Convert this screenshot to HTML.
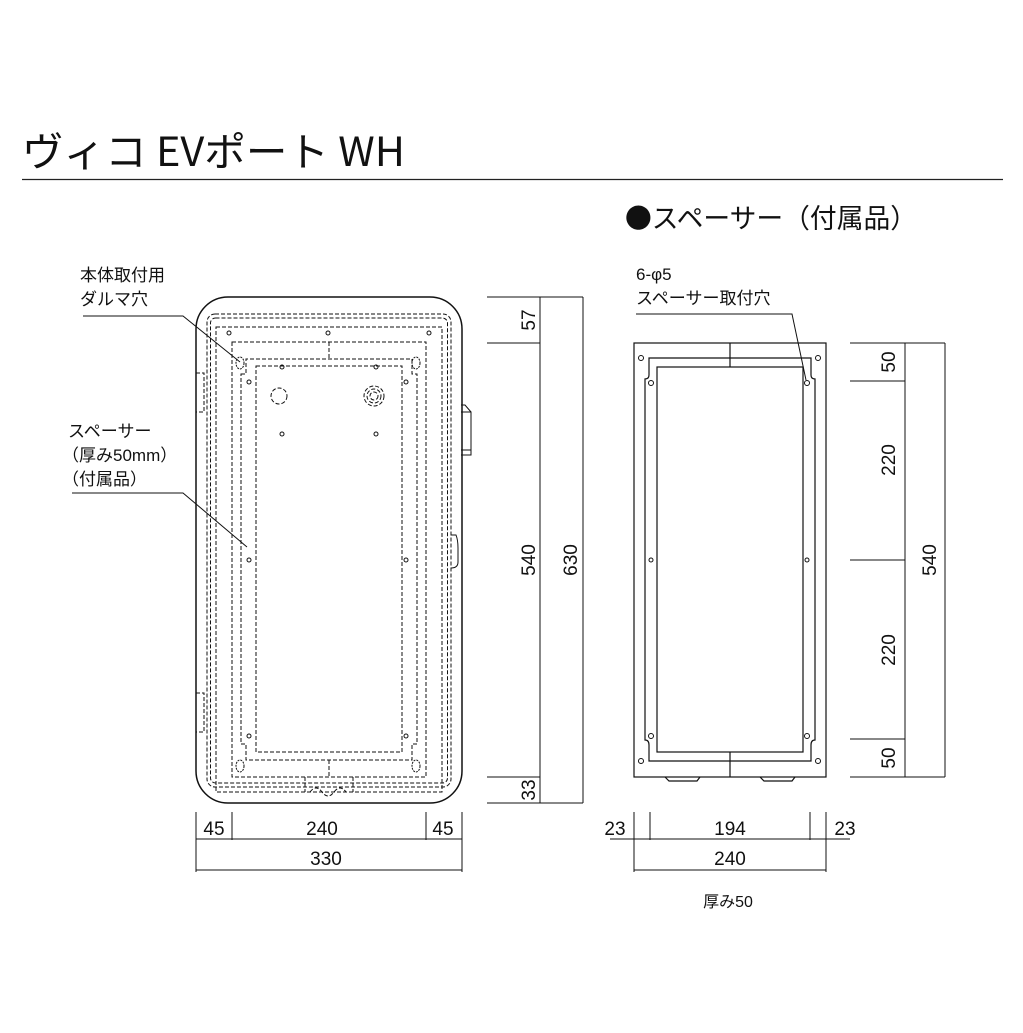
<!DOCTYPE html>
<html><head><meta charset="utf-8"><style>
html,body{margin:0;padding:0;background:#fff;}
svg{display:block;}
text{font-family:"Liberation Sans","Noto Sans CJK JP",sans-serif;fill:#111;}
</style></head><body>
<svg width="1023" height="1033" viewBox="0 0 1023 1033" xmlns="http://www.w3.org/2000/svg">
<!-- header -->
<text x="22" y="166" font-size="40" textLength="383" lengthAdjust="spacingAndGlyphs" style="font-family:'Noto Sans CJK JP',sans-serif">ヴィコ EVポート WH</text>
<line x1="22" y1="179.5" x2="1003" y2="179.5" stroke="#222" stroke-width="1.3"/>
<text x="625" y="228" font-size="27" style="font-family:'Noto Sans CJK JP',sans-serif" textLength="292" lengthAdjust="spacingAndGlyphs">●スペーサー（付属品）</text>

<!-- left labels -->
<g font-size="17">
<text x="80" y="281">本体取付用</text>
<text x="80" y="305">ダルマ穴</text>
<text x="68" y="437">スペーサー</text>
<text x="62" y="461">（厚み50mm）</text>
<text x="62" y="485">（付属品）</text>
<text x="636" y="280">6-φ5</text>
<text x="636" y="304">スペーサー取付穴</text>
</g>
<g stroke="#111" stroke-width="1" fill="none">
<polyline points="83,316 183,316 240,362"/>
<polyline points="72,493 183,493 247,547"/>
<polyline points="636,314 792,314 806,380"/>
</g>

<!-- main body -->
<g fill="none" stroke="#111">
<rect x="196" y="297" width="266" height="506" rx="32" stroke-width="1.5"/>
<g stroke-dasharray="4,2" stroke-width="1">
<rect x="207" y="314" width="244" height="473" rx="8"/>
<rect x="210.5" y="318" width="237" height="465" rx="5"/>
<rect x="216" y="327" width="226" height="465"/>
<rect x="232" y="342" width="194" height="435"/>
<path d="M241,374 L246,374 L246,359 L412,359 L412,374 L417,374 L417,744 L412,744 L412,760 L246,760 L246,744 L241,744 Z"/>
<rect x="256" y="366" width="146" height="386"/>
<line x1="329" y1="342" x2="329" y2="359"/>
<line x1="329" y1="760" x2="329" y2="777"/>
<circle cx="279" cy="396" r="8"/>
<circle cx="374" cy="396" r="4"/><circle cx="374" cy="396" r="7"/><circle cx="374" cy="396" r="10"/>
<path d="M305,777 L305,792 M353,777 L353,792 M310,792 q6,-8 12,0 q6,8 12,0 q6,-8 12,0"/>
<path d="M196,373 L204,373 L204,412 L196,412"/>
<path d="M196,693 L204,693 L204,732 L196,732"/>
</g>
<g stroke-width="1">
<circle cx="229" cy="333" r="2"/><circle cx="328" cy="333" r="2"/><circle cx="429" cy="333" r="2"/>
<circle cx="249" cy="382" r="2"/><circle cx="406" cy="382" r="2"/>
<circle cx="282" cy="367" r="2"/><circle cx="376" cy="367" r="2"/>
<circle cx="282" cy="434" r="2"/><circle cx="376" cy="434" r="2"/>
<circle cx="249" cy="560" r="2"/><circle cx="406" cy="560" r="2"/>
<circle cx="249" cy="736" r="2"/><circle cx="406" cy="736" r="2"/>
<ellipse cx="240" cy="363" rx="4" ry="6" stroke-dasharray="2,1"/><ellipse cx="416" cy="363" rx="4" ry="6" stroke-dasharray="2,1"/>
<ellipse cx="240" cy="766" rx="4" ry="6" stroke-dasharray="2,1"/><ellipse cx="416" cy="766" rx="4" ry="6" stroke-dasharray="2,1"/>
<path d="M461,412 L471,412 L471,455 L461,455 M461,405 L465,405 L471,412 M461,450 L471,450"/>
<path d="M451,535 L456,535 Q458,540 458,548 L458,562 Q458,568 451,568"/>
</g>
</g>

<!-- main dims -->
<g stroke="#111" stroke-width="1" fill="none">
<line x1="487" y1="297" x2="583" y2="297"/>
<line x1="487" y1="343" x2="540" y2="343"/>
<line x1="487" y1="777" x2="540" y2="777"/>
<line x1="487" y1="803" x2="583" y2="803"/>
<line x1="540" y1="297" x2="540" y2="803"/>
<line x1="583" y1="297" x2="583" y2="803"/>
<line x1="196" y1="812" x2="196" y2="872"/>
<line x1="232" y1="812" x2="232" y2="840"/>
<line x1="426" y1="812" x2="426" y2="840"/>
<line x1="462" y1="812" x2="462" y2="872"/>
<line x1="196" y1="839" x2="462" y2="839"/>
<line x1="196" y1="870" x2="462" y2="870"/>
</g>
<g font-size="19" text-anchor="middle">
<text transform="translate(535,320) rotate(-90)">57</text>
<text transform="translate(535,560) rotate(-90)">540</text>
<text transform="translate(577,560) rotate(-90)">630</text>
<text transform="translate(535,790) rotate(-90)" fill="#666">33</text>
<text x="214" y="835">45</text>
<text x="322" y="835">240</text>
<text x="443" y="835">45</text>
<text x="326" y="865">330</text>
</g>

<!-- spacer -->
<g fill="none" stroke="#111" stroke-width="1.2">
<rect x="634" y="343" width="192" height="434"/>
<path d="M649,375 L649,358 L811,358 L811,375 Q811,379 815,379 L815,740 Q811,740 811,745 L811,761 L649,761 L649,745 Q649,740 645,740 L645,379 Q649,379 649,375 Z"/>
<rect x="657" y="367" width="146" height="385"/>
<line x1="730" y1="343" x2="730" y2="367"/>
<line x1="730" y1="752" x2="730" y2="777"/>
<path d="M665,777 L669,781 L697,781 L700,777 M760,777 L764,781 L792,781 L795,777"/>
<g stroke-width="1">
<circle cx="641" cy="358" r="2.5"/><circle cx="818" cy="358" r="2.5"/>
<circle cx="651" cy="383" r="2.5"/><circle cx="807" cy="383" r="2.5"/>
<circle cx="651" cy="560" r="2"/><circle cx="807" cy="560" r="2"/>
<circle cx="651" cy="736" r="2.5"/><circle cx="807" cy="736" r="2.5"/>
<circle cx="641" cy="761" r="2.5"/><circle cx="818" cy="761" r="2.5"/>
</g>
</g>
<g stroke="#111" stroke-width="1" fill="none">
<line x1="850" y1="343" x2="945" y2="343"/>
<line x1="850" y1="381" x2="905" y2="381"/>
<line x1="850" y1="560" x2="905" y2="560"/>
<line x1="850" y1="739" x2="905" y2="739"/>
<line x1="850" y1="777" x2="945" y2="777"/>
<line x1="905" y1="343" x2="905" y2="777"/>
<line x1="945" y1="343" x2="945" y2="777"/>
<line x1="634" y1="812" x2="634" y2="872"/>
<line x1="650" y1="812" x2="650" y2="840"/>
<line x1="810" y1="812" x2="810" y2="840"/>
<line x1="826" y1="812" x2="826" y2="872"/>
<line x1="610" y1="839" x2="850" y2="839"/>
<line x1="634" y1="870" x2="826" y2="870"/>
</g>
<g font-size="19" text-anchor="middle">
<text transform="translate(895,362) rotate(-90)">50</text>
<text transform="translate(895,460) rotate(-90)">220</text>
<text transform="translate(895,650) rotate(-90)">220</text>
<text transform="translate(895,758) rotate(-90)">50</text>
<text transform="translate(936,560) rotate(-90)">540</text>
<text x="615" y="835">23</text>
<text x="730" y="835">194</text>
<text x="845" y="835">23</text>
<text x="730" y="865">240</text>
<text x="728" y="907" font-size="16">厚み50</text>
</g>
</svg>
</body></html>
